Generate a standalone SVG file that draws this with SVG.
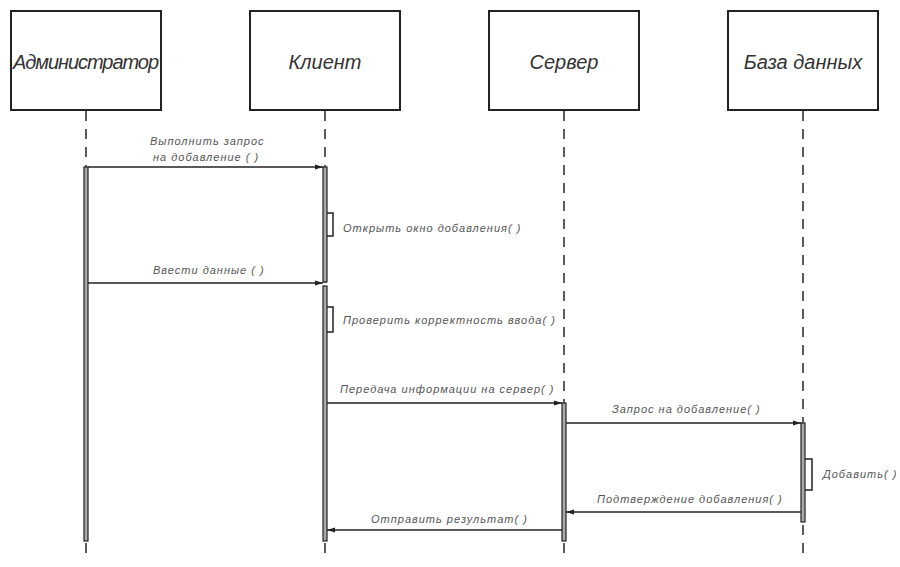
<svg xmlns="http://www.w3.org/2000/svg" width="900" height="567" viewBox="0 0 900 567">
<defs>
<marker id="arr" viewBox="0 0 8 6" refX="8" refY="3" markerWidth="8" markerHeight="6" markerUnits="userSpaceOnUse" orient="auto">
<path d="M0,0.5 L8,3 L0,5.5 z" fill="#222"/>
</marker>
</defs>
<style>
.box{fill:#fff;stroke:#222;stroke-width:2}
.title{font-family:"Liberation Sans","DejaVu Sans",sans-serif;font-style:italic;font-size:20px;fill:#333}
.life{stroke:#333;stroke-width:1.6;stroke-dasharray:10 8;fill:none}
.act{fill:#aaa;stroke:#222;stroke-width:1.2}
.msg{stroke:#222;stroke-width:1.5;fill:none;marker-end:url(#arr)}
.self{stroke:#222;stroke-width:1.5;fill:none}
.lbl{font-family:"Liberation Sans","DejaVu Sans",sans-serif;font-style:italic;font-size:11px;letter-spacing:1px;fill:#555}
</style>
<rect width="900" height="567" fill="#fff"/>
<g id="lifelines">
<line class="life" x1="86" y1="111" x2="86" y2="555"/>
<line class="life" x1="325" y1="111" x2="325" y2="555"/>
<line class="life" x1="564" y1="111" x2="564" y2="555"/>
<line class="life" x1="803" y1="111" x2="803" y2="555"/>
</g>
<g id="admin"><rect class="box" x="11" y="11" width="150" height="99"/><text class="title" x="86" y="69" text-anchor="middle" textLength="146">Администратор</text></g>
<g id="client"><rect class="box" x="250" y="11" width="150" height="99"/><text class="title" x="325" y="69" text-anchor="middle">Клиент</text></g>
<g id="server"><rect class="box" x="489" y="11" width="150" height="99"/><text class="title" x="564" y="69" text-anchor="middle">Сервер</text></g>
<g id="db"><rect class="box" x="728" y="11" width="150" height="99"/><text class="title" x="803" y="69" text-anchor="middle">База данных</text></g>
<g id="activations">
<rect class="act" x="84" y="167" width="4" height="374"/>
<rect class="act" x="323" y="167" width="4" height="115"/>
<rect class="act" x="323" y="286" width="4" height="255"/>
<rect class="act" x="562" y="403" width="4" height="138"/>
<rect class="act" x="801" y="423" width="4" height="99"/>
</g>
<g id="connectors">
<line class="msg" x1="88" y1="167" x2="323" y2="167"/>
<path class="self" d="M327,213 H333 V236 H327"/>
<line class="msg" x1="88" y1="283" x2="323" y2="283"/>
<path class="self" d="M327,307 H333 V332 H327"/>
<line class="msg" x1="327" y1="403" x2="562" y2="403"/>
<line class="msg" x1="566" y1="423" x2="801" y2="423"/>
<path class="self" d="M805,459 H812 V490 H805"/>
<line class="msg" x1="801" y1="512" x2="566" y2="512"/>
<line class="msg" x1="562" y1="530" x2="327" y2="530"/>
</g>
<g id="labels">
<text class="lbl" x="150" y="145">Выполнить запрос</text>
<text class="lbl" x="153" y="161">на добавление ( )</text>
<text class="lbl" x="343" y="232">Открыть окно добавления( )</text>
<text class="lbl" x="153" y="274">Ввести данные ( )</text>
<text class="lbl" x="343" y="324">Проверить корректность ввода( )</text>
<text class="lbl" x="340" y="393">Передача информации на сервер( )</text>
<text class="lbl" x="612" y="413">Запрос на добавление( )</text>
<text class="lbl" x="823" y="478">Добавить( )</text>
<text class="lbl" x="597" y="503">Подтверждение добавления( )</text>
<text class="lbl" x="371" y="523">Отправить результат( )</text>
</g>
</svg>
